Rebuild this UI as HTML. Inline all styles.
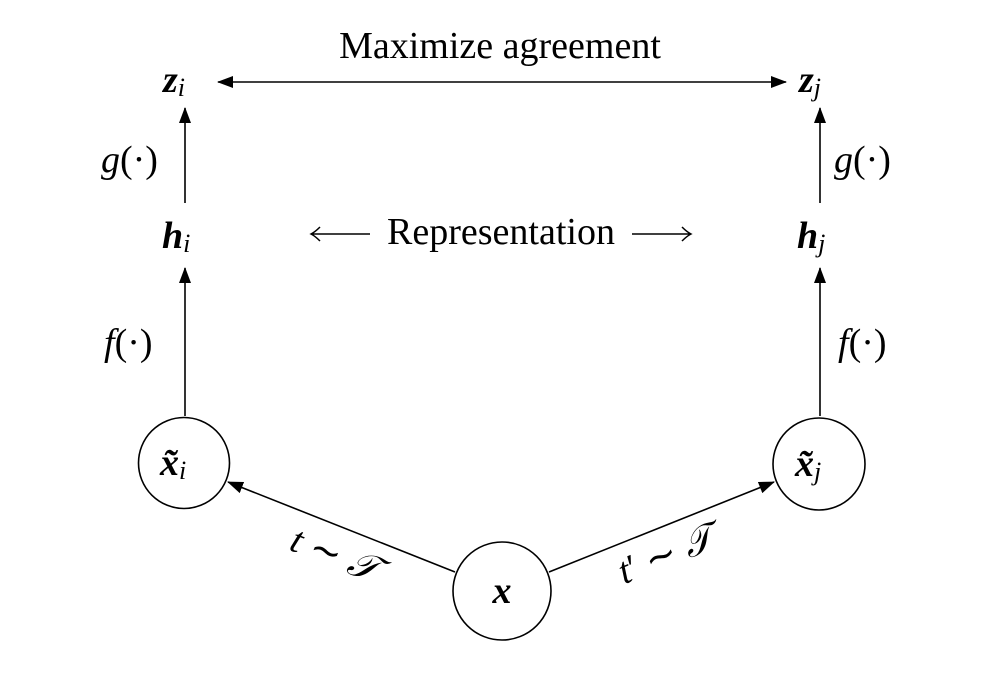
<!DOCTYPE html>
<html><head><meta charset="utf-8"><style>
html,body{margin:0;padding:0;background:#fff;}
svg{display:block;}
text{font-family:"Liberation Serif",serif;fill:#000;}
.m{font-style:italic;}
.b{font-weight:bold;font-style:italic;}
</style></head><body>
<svg width="1000" height="680" viewBox="0 0 1000 680" xmlns="http://www.w3.org/2000/svg">
<defs>
<marker id="A" markerWidth="16" markerHeight="12" refX="15" refY="6" orient="auto" markerUnits="userSpaceOnUse" viewBox="0 0 16 12">
<path d="M0,0 L16,6 L0,12 Z" fill="#000"/></marker>
<marker id="S" markerWidth="16" markerHeight="12" refX="1" refY="6" orient="auto" markerUnits="userSpaceOnUse" viewBox="0 0 16 12">
<path d="M16,0 L0,6 L16,12 Z" fill="#000"/></marker>
</defs>
<g stroke="#000" stroke-width="1.6" fill="none">
<circle cx="184" cy="463" r="45.5"/>
<circle cx="819" cy="464" r="46"/>
<circle cx="502" cy="591" r="49"/>
<line x1="455" y1="572" x2="228" y2="482" marker-end="url(#A)"/>
<line x1="549" y1="572" x2="774" y2="482" marker-end="url(#A)"/>
<line x1="185" y1="416" x2="185" y2="268" marker-end="url(#A)"/>
<line x1="820" y1="416" x2="820" y2="268" marker-end="url(#A)"/>
<line x1="185" y1="203" x2="185" y2="108" marker-end="url(#A)"/>
<line x1="820" y1="203" x2="820" y2="108" marker-end="url(#A)"/>
<line x1="218" y1="82" x2="786" y2="82" marker-start="url(#S)" marker-end="url(#A)"/>
<path d="M312,234 H370 M320,227 Q315,232 311,234 Q315,236 320,241" stroke-width="1.5"/>
<path d="M632,234 H690 M682,227 Q687,232 691,234 Q687,236 682,241" stroke-width="1.5"/>
</g>
<text x="500" y="58" font-size="38" text-anchor="middle">Maximize agreement</text>
<text x="501" y="244" font-size="38" text-anchor="middle">Representation</text>
<text x="163" y="92" font-size="38" class="b">z<tspan font-size="26" font-weight="normal" dy="4">i</tspan></text>
<text x="799" y="92" font-size="38" class="b">z<tspan font-size="26" font-weight="normal" dy="4">j</tspan></text>
<text x="162" y="248" font-size="38" class="b">h<tspan font-size="26" font-weight="normal" dy="4">i</tspan></text>
<text x="797" y="248" font-size="38" class="b">h<tspan font-size="26" font-weight="normal" dy="4">j</tspan></text>
<text x="101" y="172" font-size="38"><tspan class="m">g</tspan>(·)</text>
<text x="834" y="172" font-size="38"><tspan class="m">g</tspan>(·)</text>
<text x="104" y="355" font-size="38"><tspan class="m">f</tspan>(·)</text>
<text x="838" y="355" font-size="38"><tspan class="m">f</tspan>(·)</text>
<text x="160" y="475" font-size="38" class="b">x̃<tspan font-size="26" font-weight="normal" dy="4">i</tspan></text>
<text x="795" y="476" font-size="38" class="b">x̃<tspan font-size="26" font-weight="normal" dy="4">j</tspan></text>
<text x="502" y="603" font-size="38" class="b" text-anchor="middle">x</text>
<text x="0" y="0" font-size="38" text-anchor="middle" transform="translate(330,566) rotate(21.6)"><tspan class="m">t</tspan> ∼ <tspan class="m">𝒯</tspan></text>
<text x="0" y="0" font-size="38" text-anchor="middle" transform="translate(670,566) rotate(-21.8)"><tspan class="m">t</tspan>′ ∼ <tspan class="m">𝒯</tspan></text>
</svg>
</body></html>
